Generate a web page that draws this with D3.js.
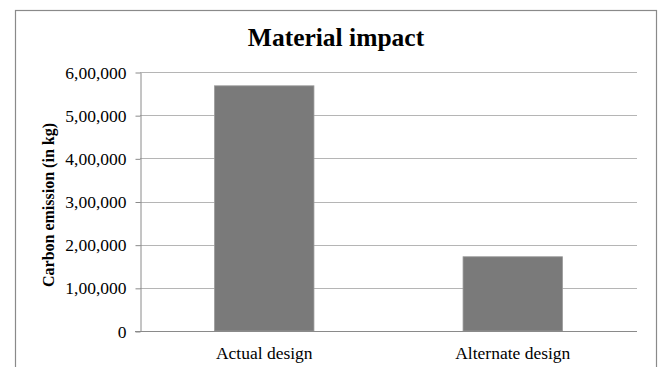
<!DOCTYPE html>
<html>
<head>
<meta charset="utf-8">
<script src="https://cdn.jsdelivr.net/npm/d3@7"></script>
<style>
  html, body { margin: 0; padding: 0; background: #fff; }
  svg { display: block; }
  text { font-family: "Liberation Serif", "Times New Roman", serif; fill: #000; }
</style>
</head>
<body>
<svg id="chart" width="662" height="367"></svg>
<script>
// Chart data
const categories = ["Actual design", "Alternate design"];
const emissions = [568000, 172000];
const tickValues = [0, 100000, 200000, 300000, 400000, 500000, 600000];
const titleText = "Material impact";
const yAxisTitle = "Carbon emission (in kg)";

// Indian digit grouping: 6,00,000
function formatIndian(v) {
  const s = String(Math.round(v));
  if (s.length <= 3) return s;
  const last3 = s.slice(-3);
  let rest = s.slice(0, -3);
  const parts = [];
  while (rest.length > 2) {
    parts.unshift(rest.slice(-2));
    rest = rest.slice(0, -2);
  }
  if (rest.length) parts.unshift(rest);
  return parts.join(",") + "," + last3;
}

const svg = d3.select("#chart");
const plot = { left: 140, right: 637, top: 72, bottom: 331 };

// Outer chart frame
svg.append("rect")
  .attr("x", 15.5).attr("y", 10.5)
  .attr("width", 641).attr("height", 400)
  .attr("fill", "#fff").attr("stroke", "#8a8a8a").attr("stroke-width", 1.2);

const x = d3.scaleBand()
  .domain(categories)
  .range([plot.left, plot.right])
  .paddingInner(0.6)
  .paddingOuter(0.3);

const y = d3.scaleLinear()
  .domain([0, 600000])
  .range([plot.bottom, plot.top]);

// Horizontal gridlines
svg.append("g")
  .selectAll("line")
  .data(tickValues.filter(d => d > 0))
  .join("line")
  .attr("x1", plot.left).attr("x2", plot.right)
  .attr("y1", d => Math.round(y(d)) + 0.5)
  .attr("y2", d => Math.round(y(d)) + 0.5)
  .attr("stroke", "#b5b5b5").attr("stroke-width", 1);

// Bars
svg.append("g")
  .selectAll("rect")
  .data(categories.map((c, i) => ({ c, v: emissions[i] })))
  .join("rect")
  .attr("x", d => x(d.c))
  .attr("width", x.bandwidth())
  .attr("y", d => y(d.v))
  .attr("height", d => y(0) - y(d.v))
  .attr("fill", "#7a7a7a")
  .attr("stroke", "#9a9a9a").attr("stroke-width", 0.8);

// Value axis
const yAxis = d3.axisLeft(y)
  .tickValues(tickValues)
  .tickFormat(formatIndian)
  .tickSize(5)
  .tickSizeOuter(0)
  .tickPadding(9);

const gy = svg.append("g")
  .attr("transform", `translate(${plot.left + 0.5},0.5)`)
  .call(yAxis);
gy.select(".domain").attr("stroke", "#8a8a8a");
gy.selectAll(".tick line").attr("stroke", "#8a8a8a");
gy.selectAll(".tick text")
  .attr("font-family", "Liberation Serif, Times New Roman, serif")
  .attr("font-size", 17.5)
  .attr("fill", "#000");

// Category axis
const xAxis = d3.axisBottom(x).tickSize(0).tickSizeOuter(0).tickPadding(15);
const gx = svg.append("g")
  .attr("transform", `translate(0,${plot.bottom + 0.5})`)
  .call(xAxis);
gx.select(".domain").attr("stroke", "#8a8a8a")
  .attr("d", `M${plot.left - 5},0H${plot.right}`);
gx.selectAll(".tick text")
  .attr("font-family", "Liberation Serif, Times New Roman, serif")
  .attr("font-size", 17.5)
  .attr("fill", "#000");

// Title
svg.append("text")
  .attr("x", 336).attr("y", 46)
  .attr("text-anchor", "middle")
  .attr("font-size", 25.5)
  .attr("font-weight", "bold")
  .text(titleText);

// Value axis title
svg.append("text")
  .attr("transform", "translate(54,205) rotate(-90)")
  .attr("text-anchor", "middle")
  .attr("font-size", 16)
  .attr("font-weight", "bold")
  .text(yAxisTitle);
</script>
</body>
</html>
